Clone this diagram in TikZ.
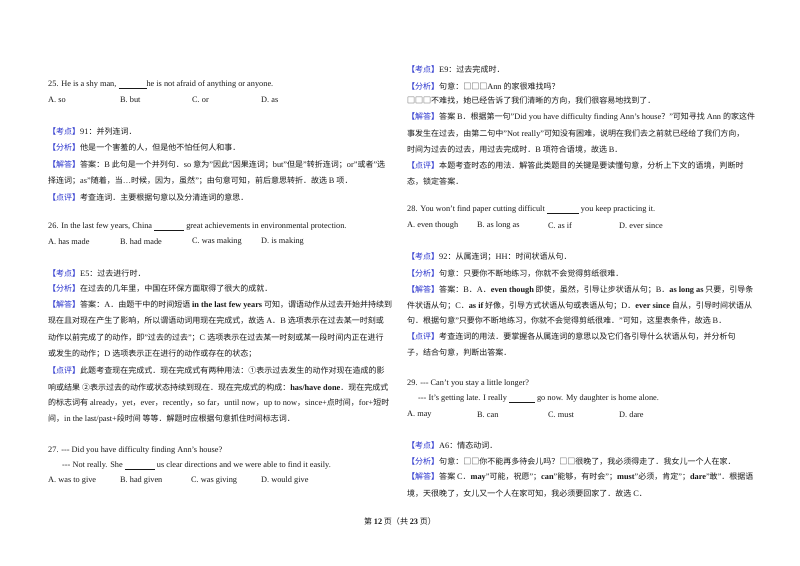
\documentclass[tikz,border=0pt]{standalone}
\usepackage{fontspec}
\setmainfont{Liberation Serif}
\newfontfamily\cjk[Scale=0.965]{Noto Sans CJK SC}
\newcommand\latinf{\rmfamily}
\XeTeXinterchartokenstate=1
\newXeTeXintercharclass\cjkclass
\newcount\cc
\cc="3000 \loop \XeTeXcharclass\cc=\cjkclass \advance\cc by 1 \ifnum\cc<"A000 \repeat
\cc="FF00 \loop \XeTeXcharclass\cc=\cjkclass \advance\cc by 1 \ifnum\cc<"FFF0 \repeat
\cc="2460 \loop \XeTeXcharclass\cc=\cjkclass \advance\cc by 1 \ifnum\cc<"2500 \repeat
\cc="25A0 \loop \XeTeXcharclass\cc=\cjkclass \advance\cc by 1 \ifnum\cc<"2600 \repeat
\XeTeXinterchartoks 0 \cjkclass = {\cjk}
\XeTeXinterchartoks 4095 \cjkclass = {\cjk}
\XeTeXinterchartoks \cjkclass 0 = {\latinf}
\XeTeXinterchartoks 4095 0 = {\latinf}
\definecolor{bl}{RGB}{40,50,205}
\definecolor{tx}{RGB}{25,25,25}
\newcommand\kd{\textcolor{bl}{【考点】}}
\newcommand\fx{\textcolor{bl}{【分析】}}
\newcommand\jd{\textcolor{bl}{【解答】}}
\newcommand\dpg{\textcolor{bl}{【点评】}}
\newcommand\blank[1]{\underline{\hspace{#1}}}
\newcommand\ddd{-{}-{}-}
\tikzset{txt/.style={anchor=west,inner sep=0pt,text=tx,font=\fontsize{8.3}{10}\selectfont}}
\newcommand\ml[3]{\node[txt] at (#1,#2) {#3};}
\begin{document}
\begin{tikzpicture}[x=1pt,y=-1pt]
\path[use as bounding box,fill=white] (0,0) rectangle (800,565);
% left column
\ml{48}{85}{25. He is a shy man, \blank{28pt}he is not afraid of anything or anyone.}
\ml{48}{100}{A. so}\ml{120}{100}{B. but}\ml{192}{100}{C. or}\ml{261}{100}{D. as}
\ml{48}{131}{\kd 91：并列连词．}
\ml{48}{148}{\fx 他是一个害羞的人，但是他不怕任何人和事．}
\ml{48}{165}{\jd 答案：B 此句是一个并列句．so 意为"因此"因果连词；but"但是"转折连词；or"或者"选}
\ml{48}{181}{择连词；as"随着，当…时候，因为，虽然"；由句意可知，前后意思转折．故选 B 项．}
\ml{48}{197}{\dpg 考查连词．主要根据句意以及分清连词的意思．}
\ml{48}{227}{26. In the last few years, China \blank{30pt} great achievements in environmental protection.}
\ml{48}{242}{A. has made}\ml{120}{242}{B. had made}\ml{192}{242}{C. was making}\ml{261}{242}{D. is making}
\ml{48}{273}{\kd E5：过去进行时．}
\ml{48}{289}{\fx 在过去的几年里，中国在环保方面取得了很大的成就．}
\ml{48}{305}{\jd 答案：A．由题干中的时间短语 \textbf{in the last few years} 可知，谓语动作从过去开始并持续到}
\ml{48}{321}{现在且对现在产生了影响，所以谓语动词用现在完成式，故选 A．B 选项表示在过去某一时刻或}
\ml{48}{338}{动作以前完成了的动作，即"过去的过去"；C 选项表示在过去某一时刻或某一段时间内正在进行}
\ml{48}{354}{或发生的动作；D 选项表示正在进行的动作或存在的状态；}
\ml{48}{370}{\dpg 此题考查现在完成式．现在完成式有两种用法：①表示过去发生的动作对现在造成的影}
\ml{48}{387}{响或结果 ②表示过去的动作或状态持续到现在．现在完成式的构成：\textbf{has/have done}．现在完成式}
\ml{48}{403}{的标志词有 already，yet，ever，recently，so far，until now，up to now，since+点时间，for+短时}
\ml{48}{419}{间，in the last/past+段时间 等等．解题时应根据句意抓住时间标志词．}
\ml{48}{450}{27. \ddd\ Did you have difficulty finding Ann's house?}
\ml{62}{466}{\ddd\ Not really. She \blank{30pt} us clear directions and we were able to find it easily.}
\ml{48}{481}{A. was to give}\ml{120}{481}{B. had given}\ml{191}{481}{C. was giving}\ml{261}{481}{D. would give}
% right column
\ml{407}{69}{\kd E9：过去完成时．}
\ml{407}{86}{\fx 句意：□□□Ann 的家很难找吗？}
\ml{407}{101}{□□□不难找，她已经告诉了我们清晰的方向，我们很容易地找到了．}
\ml{407}{117}{\jd 答案 B．根据第一句"Did you have difficulty finding Ann's house？"可知寻找 Ann 的家这件}
\ml{407}{134}{事发生在过去，由第二句中"Not really"可知没有困难，说明在我们去之前就已经给了我们方向，}
\ml{407}{150}{时间为过去的过去，用过去完成时．B 项符合语境，故选 B．}
\ml{407}{166}{\dpg 本题考查时态的用法．解答此类题目的关键是要读懂句意，分析上下文的语境，判断时}
\ml{407}{182}{态，锁定答案．}
\ml{407}{210}{28. You won't find paper cutting difficult \blank{32pt} you keep practicing it.}
\ml{407}{226}{A. even though}\ml{477}{226}{B. as long as}\ml{548}{226}{C. as if}\ml{619}{226}{D. ever since}
\ml{407}{257}{\kd 92：从属连词；HH：时间状语从句．}
\ml{407}{274}{\fx 句意：只要你不断地练习，你就不会觉得剪纸很难．}
\ml{407}{290}{\jd 答案：B．A．\textbf{even though} 即使，虽然，引导让步状语从句；B．\textbf{as long as} 只要，引导条}
\ml{407}{306}{件状语从句；C．\textbf{as if} 好像，引导方式状语从句或表语从句；D．\textbf{ever since} 自从，引导时间状语从}
\ml{407}{321}{句．根据句意"只要你不断地练习，你就不会觉得剪纸很难．"可知，这里表条件，故选 B．}
\ml{407}{337}{\dpg 考查连词的用法．要掌握各从属连词的意思以及它们各引导什么状语从句，并分析句}
\ml{407}{353}{子，结合句意，判断出答案．}
\ml{407}{384}{29. \ddd\ Can't you stay a little longer?}
\ml{418}{399}{\ddd\ It's getting late. I really \blank{26pt} go now. My daughter is home alone.}
\ml{407}{415}{A. may}\ml{477}{415}{B. can}\ml{548}{415}{C. must}\ml{619}{415}{D. dare}
\ml{407}{445}{\kd A6：情态动词．}
\ml{407}{462}{\fx 句意：□□你不能再多待会儿吗？□□很晚了，我必须得走了．我女儿一个人在家．}
\ml{407}{477}{\jd 答案 C．\textbf{may}"可能，祝愿"；\textbf{can}"能够，有时会"；\textbf{must}"必须，肯定"；\textbf{dare}"敢"．根据语}
\ml{407}{494}{境，天很晚了，女儿又一个人在家可知，我必须要回家了．故选 C．}
% footer
\node[txt,anchor=center] (footer) at (400,521) {第 \textbf{12} 页（共 \textbf{23} 页）};
\end{tikzpicture}
\end{document}
